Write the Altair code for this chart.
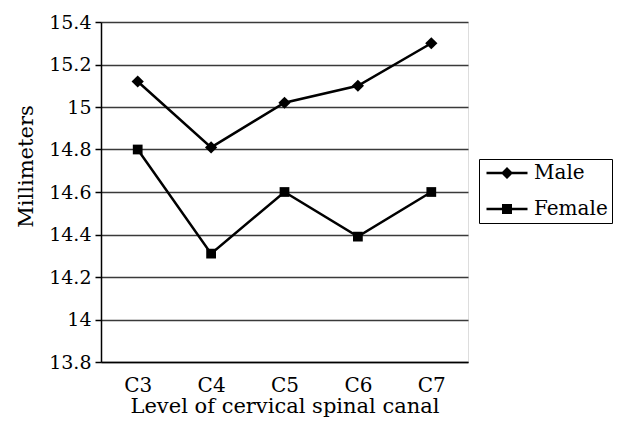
import altair as alt
import pandas as pd

levels = ["C3", "C4", "C5", "C6", "C7"]
male = [15.12, 14.81, 15.02, 15.10, 15.30]
female = [14.80, 14.31, 14.60, 14.39, 14.60]
series = ["Male", "Female"]
y_ticks = [13.8, 14.0, 14.2, 14.4, 14.6, 14.8, 15.0, 15.2, 15.4]

rows = []
for lv, m, f in zip(levels, male, female):
    rows.append({"level": lv, "value": m, "series": "Male"})
    rows.append({"level": lv, "value": f, "series": "Female"})
df = pd.DataFrame(rows)

FONT = "DejaVu Serif"

x_enc = alt.X(
    "level:N",
    sort=levels,
    scale=alt.Scale(type="point", padding=0.5),
    axis=alt.Axis(
        title="Level of cervical spinal canal",
        ticks=False,
        labelAngle=0,
        labelPadding=13,
        titlePadding=0,
        domainColor="black",
        domainWidth=1.5,
        grid=False,
        labelFont=FONT,
        labelFontSize=20,
        labelColor="black",
        titleFont=FONT,
        titleFontSize=21,
        titleFontWeight="normal",
        titleColor="black",
    ),
)
y_enc = alt.Y(
    "value:Q",
    scale=alt.Scale(domain=[13.8, 15.4], nice=False, zero=False),
    axis=alt.Axis(
        title="Millimeters",
        values=y_ticks,
        format="~g",
        tickSize=6,
        tickColor="black",
        tickWidth=1.5,
        labelPadding=4,
        titlePadding=12,
        titleY=144,
        domainColor="black",
        domainWidth=1.5,
        grid=True,
        gridColor="#3a3a3a",
        gridWidth=1.5,
        labelFont=FONT,
        labelFontSize=19,
        labelColor="black",
        titleFont=FONT,
        titleFontSize=21,
        titleFontWeight="normal",
        titleColor="black",
    ),
)

base = alt.Chart(df)

lines = base.mark_line(color="black", strokeWidth=2.5).encode(
    x=x_enc, y=y_enc, detail="series:N"
)

male_pts = base.transform_filter(alt.datum.series == "Male").mark_point(
    shape="diamond", filled=True, color="black", size=150, opacity=1
).encode(x=x_enc, y=y_enc)

female_pts = base.transform_filter(alt.datum.series == "Female").mark_point(
    shape="square", filled=True, color="black", size=95, opacity=1
).encode(x=x_enc, y=y_enc)

# legend glyphs: a short filled bar (the line) plus the marker
legend_paths = [
    "M-1.3,-0.25L6.9,-0.25L6.9,0.25L-1.3,0.25ZM2.8,-1.2L4.0,0L2.8,1.2L1.6,0Z",
    "M-1.3,-0.25L6.9,-0.25L6.9,0.25L-1.3,0.25ZM1.8,-1.0L3.8,-1.0L3.8,1.0L1.8,1.0Z",
]

legend_layer = base.transform_filter("false").mark_point(
    filled=True, color="black", opacity=1
).encode(
    x=x_enc,
    y=y_enc,
    shape=alt.Shape(
        "series:N",
        scale=alt.Scale(domain=series, range=legend_paths),
        legend=alt.Legend(
            title=None,
            orient="none",
            legendX=378,
            legendY=137,
            symbolSize=100,
            symbolFillColor="black",
            labelFont=FONT,
            labelFontSize=20,
            labelColor="black",
            labelOffset=31,
            rowPadding=16,
            padding=4,
            strokeColor="black",
        ),
    ),
)

chart = (
    alt.layer(lines, male_pts, female_pts, legend_layer)
    .properties(
        width=367,
        height=340,
        autosize=alt.AutoSizeParams(type="none"),
        padding={"left": 93, "top": 14, "right": 145, "bottom": 56},
    )
    .configure_view(stroke="black", strokeWidth=1.5)
    .configure_legend(strokeWidth=2)
    .configure(background="white")
)

chart.save("out.html", embed_options={"renderer": "svg", "actions": False})
